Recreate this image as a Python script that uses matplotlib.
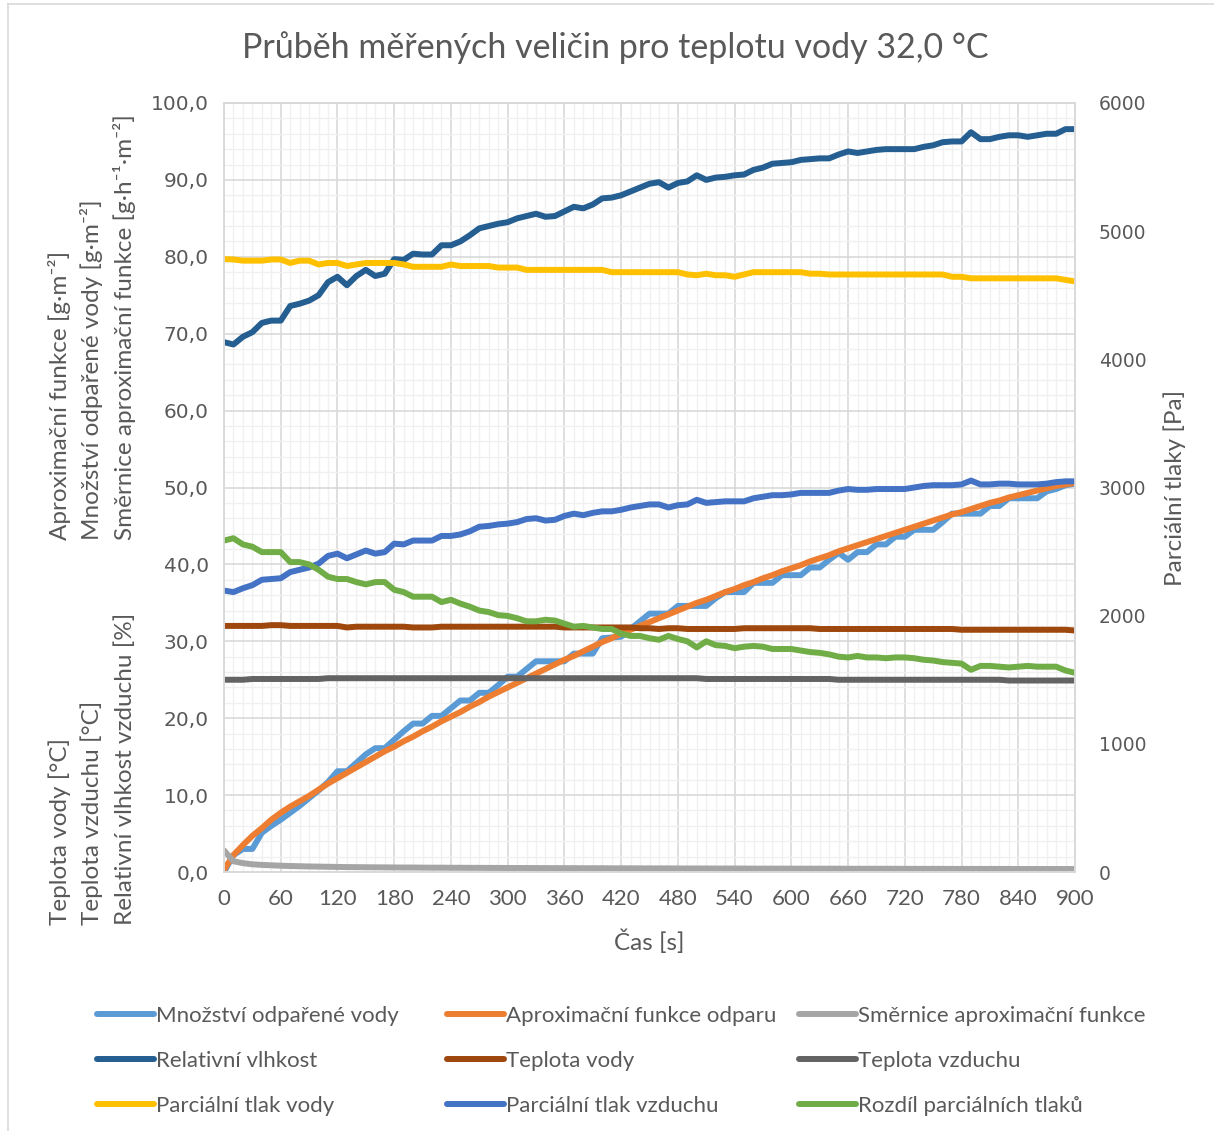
import matplotlib
matplotlib.use("Agg")
import matplotlib.pyplot as plt
from matplotlib.lines import Line2D
from matplotlib.ticker import MultipleLocator, FuncFormatter

# cas mereni [s]
cas = list(range(0, 901, 10))

# leva osa
mnozstvi_vody = [
    0.0, 2.2, 3.0, 3.0, 5.1, 6.0, 6.8, 7.7, 8.6, 9.6,
    10.6, 11.7, 13.1, 13.1, 14.2, 15.3, 16.1, 16.1, 17.2, 18.3,
    19.3, 19.3, 20.3, 20.3, 21.3, 22.3, 22.3, 23.3, 23.3, 24.3,
    25.4, 25.4, 26.4, 27.4, 27.4, 27.4, 27.4, 28.4, 28.4, 28.4,
    30.4, 30.5, 30.6, 31.6, 32.6, 33.6, 33.6, 33.6, 34.6, 34.6,
    34.6, 34.6, 35.6, 36.4, 36.4, 36.4, 37.6, 37.6, 37.6, 38.6,
    38.6, 38.6, 39.6, 39.6, 40.6, 41.5, 40.6, 41.6, 41.6, 42.6,
    42.6, 43.6, 43.6, 44.5, 44.5, 44.5, 45.5, 46.6, 46.6, 46.6,
    46.6, 47.6, 47.6, 48.6, 48.6, 48.6, 48.6, 49.5, 49.8, 50.3,
    50.5]
aproximace = [
    0.3, 2.2, 3.5, 4.7, 5.7, 6.8, 7.7, 8.5, 9.2, 9.9,
    10.7, 11.5, 12.2, 12.9, 13.6, 14.3, 15.0, 15.7, 16.3, 17.0,
    17.6, 18.3, 18.9, 19.6, 20.2, 20.8, 21.5, 22.1, 22.8, 23.4,
    24.0, 24.6, 25.2, 25.8, 26.4, 27.0, 27.6, 28.1, 28.7, 29.3,
    29.9, 30.4, 31.0, 31.5, 32.0, 32.5, 33.0, 33.5, 34.0, 34.5,
    35.0, 35.4, 35.9, 36.4, 36.8, 37.3, 37.7, 38.2, 38.6, 39.1,
    39.5, 39.9, 40.4, 40.8, 41.2, 41.7, 42.1, 42.5, 42.9, 43.3,
    43.7, 44.1, 44.5, 44.9, 45.3, 45.7, 46.1, 46.5, 46.8, 47.2,
    47.6, 48.0, 48.3, 48.7, 49.0, 49.3, 49.6, 49.9, 50.2, 50.4,
    50.6]
smernice = [
    2.8, 1.4, 1.15, 1.0, 0.92, 0.87, 0.82, 0.78, 0.75, 0.72,
    0.7, 0.68, 0.66, 0.64, 0.63, 0.62, 0.61, 0.6, 0.59, 0.58,
    0.58, 0.57, 0.56, 0.56, 0.55, 0.55, 0.54, 0.54, 0.53, 0.53,
    0.52, 0.52, 0.52, 0.51, 0.51, 0.5, 0.5, 0.5, 0.49, 0.49,
    0.49, 0.48, 0.48, 0.48, 0.47, 0.47, 0.47, 0.47, 0.46, 0.46,
    0.46, 0.46, 0.45, 0.45, 0.45, 0.45, 0.44, 0.44, 0.44, 0.44,
    0.44, 0.43, 0.43, 0.43, 0.43, 0.43, 0.42, 0.42, 0.42, 0.42,
    0.42, 0.42, 0.41, 0.41, 0.41, 0.41, 0.41, 0.4, 0.4, 0.4,
    0.4, 0.4, 0.4, 0.4, 0.39, 0.39, 0.39, 0.39, 0.39, 0.39,
    0.38]
rel_vlhkost = [
    68.9, 68.6, 69.6, 70.2, 71.4, 71.7, 71.7, 73.6, 73.9, 74.3,
    75.0, 76.7, 77.4, 76.3, 77.5, 78.3, 77.5, 77.8, 79.7, 79.6,
    80.4, 80.3, 80.3, 81.5, 81.5, 82.0, 82.8, 83.7, 84.0, 84.3,
    84.5, 85.0, 85.3, 85.6, 85.2, 85.3, 85.9, 86.5, 86.3, 86.8,
    87.6, 87.7, 88.0, 88.5, 89.0, 89.5, 89.7, 89.0, 89.6, 89.8,
    90.6, 90.0, 90.3, 90.4, 90.6, 90.7, 91.3, 91.6, 92.1, 92.2,
    92.3, 92.6, 92.7, 92.8, 92.8, 93.3, 93.7, 93.5, 93.7, 93.9,
    94.0, 94.0, 94.0, 94.0, 94.3, 94.5, 94.9, 95.0, 95.0, 96.2,
    95.3, 95.3, 95.6, 95.8, 95.8, 95.6, 95.8, 96.0, 96.0, 96.6,
    96.6]
teplota_vody = [
    32.0, 32.0, 32.0, 32.0, 32.0, 32.1, 32.1, 32.0, 32.0, 32.0,
    32.0, 32.0, 32.0, 31.8, 31.9, 31.9, 31.9, 31.9, 31.9, 31.9,
    31.8, 31.8, 31.8, 31.9, 31.9, 31.9, 31.9, 31.9, 31.9, 31.9,
    31.9, 31.9, 31.9, 31.9, 31.9, 31.9, 31.8, 31.8, 31.8, 31.8,
    31.8, 31.8, 31.8, 31.8, 31.7, 31.7, 31.6, 31.7, 31.7, 31.6,
    31.6, 31.6, 31.6, 31.6, 31.6, 31.7, 31.7, 31.7, 31.7, 31.7,
    31.7, 31.7, 31.7, 31.6, 31.6, 31.6, 31.6, 31.6, 31.6, 31.6,
    31.6, 31.6, 31.6, 31.6, 31.6, 31.6, 31.6, 31.6, 31.5, 31.5,
    31.5, 31.5, 31.5, 31.5, 31.5, 31.5, 31.5, 31.5, 31.5, 31.5,
    31.4]
teplota_vzduchu = [
    25.0, 25.0, 25.0, 25.1, 25.1, 25.1, 25.1, 25.1, 25.1, 25.1,
    25.1, 25.2, 25.2, 25.2, 25.2, 25.2, 25.2, 25.2, 25.2, 25.2,
    25.2, 25.2, 25.2, 25.2, 25.2, 25.2, 25.2, 25.2, 25.2, 25.2,
    25.2, 25.2, 25.2, 25.2, 25.2, 25.2, 25.2, 25.2, 25.2, 25.2,
    25.2, 25.2, 25.2, 25.2, 25.2, 25.2, 25.2, 25.2, 25.2, 25.2,
    25.2, 25.1, 25.1, 25.1, 25.1, 25.1, 25.1, 25.1, 25.1, 25.1,
    25.1, 25.1, 25.1, 25.1, 25.1, 25.0, 25.0, 25.0, 25.0, 25.0,
    25.0, 25.0, 25.0, 25.0, 25.0, 25.0, 25.0, 25.0, 25.0, 25.0,
    25.0, 25.0, 25.0, 24.9, 24.9, 24.9, 24.9, 24.9, 24.9, 24.9,
    24.9]

# prava osa [Pa]
tlak_vody = [
    4782, 4779, 4770, 4770, 4770, 4779, 4779, 4752, 4770, 4770,
    4740, 4752, 4752, 4728, 4740, 4752, 4752, 4752, 4752, 4740,
    4722, 4722, 4722, 4722, 4740, 4728, 4728, 4728, 4728, 4716,
    4716, 4716, 4698, 4698, 4698, 4698, 4698, 4698, 4698, 4698,
    4698, 4680, 4680, 4680, 4680, 4680, 4680, 4680, 4680, 4662,
    4656, 4668, 4656, 4656, 4644, 4662, 4680, 4680, 4680, 4680,
    4680, 4680, 4668, 4668, 4662, 4662, 4662, 4662, 4662, 4662,
    4662, 4662, 4662, 4662, 4662, 4662, 4662, 4644, 4644, 4632,
    4632, 4632, 4632, 4632, 4632, 4632, 4632, 4632, 4632, 4620,
    4608]
tlak_vzduchu = [
    2196, 2184, 2214, 2238, 2280, 2286, 2292, 2340, 2358, 2376,
    2406, 2466, 2484, 2448, 2478, 2508, 2484, 2496, 2562, 2556,
    2586, 2586, 2586, 2622, 2622, 2634, 2658, 2694, 2700, 2712,
    2718, 2730, 2754, 2760, 2742, 2748, 2778, 2796, 2784, 2802,
    2814, 2814, 2826, 2844, 2856, 2868, 2868, 2844, 2862, 2868,
    2904, 2880, 2886, 2892, 2892, 2892, 2916, 2928, 2940, 2940,
    2946, 2958, 2958, 2958, 2958, 2976, 2988, 2982, 2982, 2988,
    2988, 2988, 2988, 3000, 3012, 3018, 3018, 3018, 3024, 3054,
    3024, 3024, 3030, 3030, 3024, 3024, 3024, 3030, 3042, 3048,
    3048]
rozdil_tlaku = [
    2586, 2604, 2556, 2538, 2496, 2496, 2496, 2418, 2418, 2400,
    2358, 2304, 2286, 2286, 2262, 2244, 2262, 2262, 2202, 2184,
    2148, 2148, 2148, 2106, 2124, 2094, 2070, 2040, 2028, 2004,
    1998, 1980, 1956, 1956, 1968, 1962, 1938, 1914, 1920, 1908,
    1896, 1896, 1860, 1842, 1842, 1824, 1812, 1842, 1818, 1800,
    1752, 1800, 1770, 1764, 1746, 1758, 1764, 1758, 1740, 1740,
    1740, 1728, 1716, 1710, 1698, 1680, 1674, 1686, 1674, 1674,
    1668, 1674, 1674, 1668, 1656, 1650, 1638, 1632, 1626, 1578,
    1608, 1608, 1602, 1596, 1602, 1608, 1602, 1602, 1602, 1572,
    1554]

sede = "#595959"
pismo = ["Lato", "DejaVu Sans"]
plt.rcParams["font.family"] = pismo

fig = plt.figure(figsize=(12.14, 11.31), dpi=100)
ax = fig.add_axes([224/1214, 1-872/1131, 851/1214, 769/1131])
ax2 = ax.twinx()

styl = dict(lw=4.3, solid_capstyle="round", solid_joinstyle="round")
h1, = ax.plot(cas, mnozstvi_vody, color="#5B9BD5", label="Množství odpařené vody", **styl)
h2, = ax.plot(cas, aproximace, color="#ED7D31", label="Aproximační funkce odparu", **styl)
h3, = ax.plot(cas, smernice, color="#A5A5A5", label="Směrnice aproximační funkce", **styl)
h4, = ax.plot(cas, rel_vlhkost, color="#255E91", label="Relativní vlhkost", **styl)
h5, = ax.plot(cas, teplota_vody, color="#9E480E", label="Teplota vody", **styl)
h6, = ax.plot(cas, teplota_vzduchu, color="#636363", label="Teplota vzduchu", **styl)
h7, = ax2.plot(cas, tlak_vody, color="#FFC000", label="Parciální tlak vody", **styl)
h8, = ax2.plot(cas, tlak_vzduchu, color="#4472C4", label="Parciální tlak vzduchu", **styl)
h9, = ax2.plot(cas, rozdil_tlaku, color="#70AD47", label="Rozdíl parciálních tlaků", **styl)

ax.set_xlim(0, 900)
ax.set_ylim(0, 100)
ax2.set_ylim(0, 6000)
ax.xaxis.set_major_locator(MultipleLocator(60))
ax.xaxis.set_minor_locator(MultipleLocator(10))
ax.yaxis.set_major_locator(MultipleLocator(10))
ax.yaxis.set_minor_locator(MultipleLocator(2))
ax2.yaxis.set_major_locator(MultipleLocator(1000))
ax.yaxis.set_major_formatter(FuncFormatter(lambda v, p: f"{v:.1f}".replace(".", ",")))

ax.grid(which="major", color="#D9D9D9", lw=1.2)
ax.grid(which="minor", color="#F0F0F0", lw=1.0)
ax.set_axisbelow(True)
for a in (ax, ax2):
    for s in a.spines.values():
        s.set_color("#D9D9D9")
        s.set_linewidth(1.2)

ax.tick_params(axis="both", which="both", length=0, colors=sede)
ax2.tick_params(axis="y", length=0, colors=sede, pad=17)
ax.tick_params(axis="x", labelsize=16, pad=12)
ax.tick_params(axis="y", labelsize=14.5, pad=11)
for lab in ax.get_yticklabels() + ax2.get_yticklabels():
    lab.set_family("DejaVu Sans")
ax2.tick_params(axis="y", labelsize=13.5)

ax.set_xlabel("Čas [s]", fontsize=17.5, color=sede, labelpad=15)
ax2.set_ylabel("Parciální tlaky [Pa]", fontsize=17.5, color=sede, labelpad=12)

fig.text(615/1214, 1-48/1131, "Průběh měřených veličin pro teplotu vody 32,0 °C",
         ha="center", va="center", fontsize=24.5, color=sede)

# popisky leve osy
horni = ["Aproximační funkce [g·m⁻²]", "Množství odpařené vody [g·m⁻²]",
         "Směrnice aproximační funkce [g·h⁻¹·m⁻²]"]
dolni = ["Teplota vody [°C]", "Teplota vzduchu [°C]", "Relativní vlhkost vzduchu [%]"]
for i, x in enumerate([60, 92, 125]):
    fig.text(x/1214, 1-540/1131, horni[i], rotation=90, ha="center", va="bottom",
             fontsize=17.5, color=sede)
    fig.text(x/1214, 1-925/1131, dolni[i], rotation=90, ha="center", va="bottom",
             fontsize=17.5, color=sede)

# legenda - tri sloupce
sloupce = [[h1, h4, h7], [h2, h5, h8], [h3, h6, h9]]
for i, x in enumerate([88, 438, 790]):
    hs = sloupce[i]
    fig.legend(hs, [h.get_label() for h in hs], loc="upper left",
               bbox_to_anchor=(x/1214, 1-997/1131), frameon=False, fontsize=16,
               handlelength=2.55, handletextpad=0.1, labelspacing=1.12,
               borderaxespad=0, labelcolor=sede)

fig.add_artist(Line2D([8/1214, 8/1214], [0, 1-4/1131], transform=fig.transFigure,
                      color="#D9D9D9", lw=1.2))
fig.add_artist(Line2D([8/1214, 1], [1-4/1131, 1-4/1131], transform=fig.transFigure,
                      color="#D9D9D9", lw=1.2))

fig.savefig("out.png", dpi=100)
